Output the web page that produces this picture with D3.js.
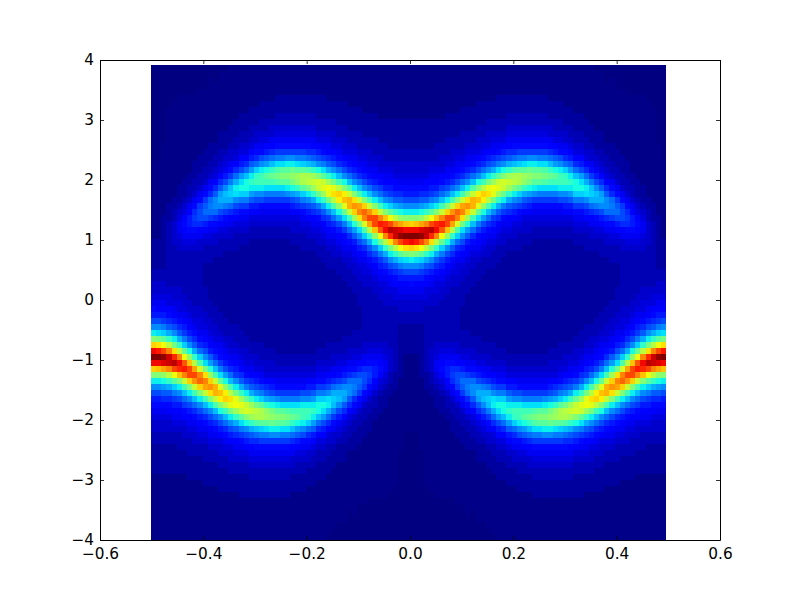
<!DOCTYPE html>
<html><head><meta charset="utf-8">
<script src="https://cdn.jsdelivr.net/npm/d3@7"></script>
<style>html,body{margin:0;background:#fff}svg{display:block}text{font-family:"DejaVu Sans";fill:#000}</style>
</head><body><svg id="c" width="800" height="600"></svg>
<script>
// Intensity levels (0-9a-zA-Z = 0..61), one string per column, bottom row first.
// The picture repeats under k -> -k and under (k, y) -> (k + 0.5, -y), so the distinct quarter is listed.
const columnLevels = [
"1111111111 1222223344 5689cgmvGT ZTGvmgc986 5443322222 1111111111 1110000000 0000000000 0",
"1111111111 1222223344 5689cgmvHT ZSFulgc976 5443322222 1111111111 1110000000 0000000000 0",
"1111111111 1222223344 568adhnwJU YPDskfb976 5443322222 2222111111 1111110000 0000000000 0",
"1111111111 1222223344 578adipzLV VLzpida875 5433333333 3332221111 1111111111 1100000000 0",
"1111111111 1222223345 679bfksDPW RFumgc9765 4433333334 4443322111 1111111111 1110000000 0",
"1111111111 1222233345 679cgmvHRT Lzpida8655 4433333344 5665432221 1111111111 1111000000 0",
"1111111111 1222233445 78bejqALSO Dtkfb97654 4333333345 6787543222 1111111111 1111000000 0",
"1111111111 2222333456 79cgmvGPPH wngc976544 3333333345 6899764332 2111111111 1111000000 0",
"1111111111 2222334456 8aejqAKPJz pida865443 3333333345 68aba86433 2221111111 1111000000 0",
"1111111111 2222334567 9cgmvGNLBr kea8655443 3333333344 67accb8643 3222111111 1111100000 0",
"1111111112 2223334568 aejqAJLFul gc97654433 3322223334 579cedb864 3322211111 1111100000 0",
"1111111112 2223345679 cgmvFKGxoh d976544333 2222223334 568befea86 4332221111 1111111000 0",
"1111111112 222334568a ejrAIIAqje a865443332 2222222334 468aeggda7 5433221111 1111110000 0",
"1111111122 223344579c gnvEHCtlfb 8765433322 2222222333 4579cgihda 7543322211 1111111100 0",
"1111111122 22334568ae jqzGEwnhc9 7654333222 2222222233 4568bfijgc 9654322211 1111111100 0",
"1111111122 23344579cg muCFzrjea8 6544332222 2222222233 4467aeikjf b864432221 1111111110 0",
"1111111122 2334567adi pxDCumgb97 6543332222 2222222233 34579cglmi ea75433222 1111111111 0",
"1111111222 2334568bfl sACxpida76 5433322222 2222222223 34568bfknl hc97543322 2111111111 1",
"1111111222 2334579cgn vBAtmfb865 4433222222 2222222223 34568bfknn jea7543322 2111111111 1",
"1111111222 334567adip xAxpida765 4332222222 2222222222 334579dhmp mhd9754332 2211111111 1",
"1111111222 334568aejr yzumgc9754 4332222222 2222222222 334579cgmq pkea864432 2211111111 1",
"1111111222 334568bfks yyskfb8654 3332222222 2222222222 334568cgmq qmgc865433 2221111111 1",
"1111111222 334568bfls xwpida7544 3322222222 2222222222 334568bflq snhd975433 2221111111 1",
"1111111222 334568bgmt wunhc97544 3322222222 2222222222 334568bflq tpjea76443 2221111111 1",
"1111111222 334568bgms vsmgb86543 3222222222 2222222222 334568bflr urlfb86543 3222111111 1",
"1111111222 334568bfls vslfb86543 3222222222 2222222222 334568bfls vslfb86543 3222111111 1"
];
const levelChars = "0123456789abcdefghijklmnopqrstuvwxyzABCDEFGHIJKLMNOPQRSTUVWXYZ";
const faintLevelValues = [0, 0.008, 0.026, 0.046];
const xTicks = [-0.6,-0.4,-0.2,0,0.2,0.4,0.6];
const yTicks = [-4,-3,-2,-1,0,1,2,3,4];
const columnCount = 100, rowCount = 79, kStart = -0.5013, kStep = 0.00997, yStart = -4, yStep = 0.1002;

const svg = d3.select("#c");
const x = d3.scaleLinear().domain([-0.6,0.6]).range([100,720]);
const y = d3.scaleLinear().domain([-4,4]).range([540,60]);
const ch = (stops, vals) => d3.scaleLinear().domain(stops).range(vals).clamp(true);
const red = ch([0,.35,.66,.89,1],[0,0,1,1,.5]);
const green = ch([0,.125,.375,.64,.91,1],[0,0,1,1,0,0]);
const blue = ch([0,.11,.34,.65,1],[.5,1,1,0,0]);
const jet = v => `rgb(${Math.round(255*red(v))},${Math.round(255*green(v))},${Math.round(255*blue(v))})`;

const decode = c => { const n = levelChars.indexOf(c); return n < faintLevelValues.length ? faintLevelValues[n] : n/61; };
const quarter = columnLevels.map(s => s.replace(/ /g,"").split("").map(decode));
const cells = [];
for (let c=0;c<columnCount;c++){
  const j = c<=50 ? c : 100-c;
  for (let i=0;i<rowCount;i++){
    const v = j<=25 ? quarter[j][i] : quarter[50-j][80-i];
    cells.push({c,i,v});
  }
}
svg.append("g").selectAll("rect").data(cells).join("rect")
  .attr("x",d=>x(kStart+d.c*kStep))
  .attr("width",d=>x(kStart+(d.c+1)*kStep)-x(kStart+d.c*kStep))
  .attr("y",d=>y(yStart+(d.i+1)*yStep))
  .attr("height",d=>y(yStart+d.i*yStep)-y(yStart+(d.i+1)*yStep))
  .attr("fill",d=>jet(d.v))
  .attr("shape-rendering","crispEdges");

const fmtX = d=>d3.format(".1f")(d).replace("-","\u2212");
const fmtY = d=>String(d).replace("-","\u2212");
const style = g=>{
  g.selectAll("text").style("font-size","15.3px").style("font-family",'"DejaVu Sans"').attr("fill","#000");
  g.selectAll("line").attr("stroke","#000").attr("stroke-width",0.8);
  g.select(".domain").attr("stroke","#000").attr("stroke-width",1);
};
svg.append("g").attr("transform","translate(0,540)")
  .call(d3.axisBottom(x).tickValues(xTicks).tickFormat(fmtX).tickSizeInner(-4).tickSizeOuter(0).tickPadding(8)).call(style);
svg.append("g").attr("transform","translate(0,60)")
  .call(d3.axisTop(x).tickValues(xTicks).tickFormat("").tickSizeInner(-4).tickSizeOuter(0)).call(style);
svg.append("g").attr("transform","translate(100,0)")
  .call(d3.axisLeft(y).tickValues(yTicks).tickFormat(fmtY).tickSizeInner(-4).tickSizeOuter(0).tickPadding(6)).call(style);
svg.append("g").attr("transform","translate(720,0)")
  .call(d3.axisRight(y).tickValues(yTicks).tickFormat("").tickSizeInner(-4).tickSizeOuter(0)).call(style);
</script></body></html>
